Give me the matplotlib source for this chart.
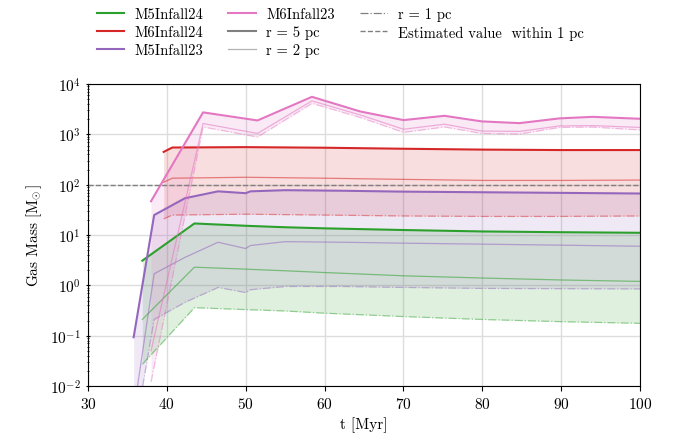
import numpy as np
import matplotlib
matplotlib.use("Agg")
import matplotlib.pyplot as plt
from matplotlib.lines import Line2D

plt.rcParams['font.family'] = ['cmr10', 'DejaVu Serif']
plt.rcParams['mathtext.fontset'] = 'cm'
plt.rcParams['axes.formatter.use_mathtext'] = True
plt.rcParams['font.size'] = 11

# M5Infall24 (green)
t_m5i24 = [36.9, 43.5, 50, 55, 60, 70, 80, 90, 100]
m5i24_r5 = [3.1, 17, 15.3, 14.3, 13.6, 12.6, 11.8, 11.4, 11.1]
m5i24_r2 = [0.21, 2.3, 2.1, 1.95, 1.8, 1.55, 1.4, 1.28, 1.2]
m5i24_r1 = [0.027, 0.36, 0.33, 0.31, 0.28, 0.24, 0.21, 0.19, 0.176]

# M6Infall24 (red)
t_m6i24 = [39.6, 40.7, 50, 60, 70, 80, 90, 100]
m6i24_r5 = [450, 550, 560, 545, 520, 500, 490, 490]
m6i24_r2 = [112, 135, 141, 135, 128, 122, 122, 124]
m6i24_r1 = [21, 25, 26, 25, 24, 23.5, 23.5, 24]

# M5Infall23 (purple)
t_m5i23 = [35.8, 38.4, 42.3, 46.5, 50, 50.6, 55, 62.4, 70, 80, 90, 100]
m5i23_r5 = [0.093, 25, 54, 74, 68, 74, 78, 76, 73, 71, 69, 67]
m5i23_r2 = [0.003, 1.7, 3.6, 7.2, 5.4, 6.2, 7.4, 7.2, 6.9, 6.6, 6.3, 6.0]
m5i23_r1 = [0.0009, 0.21, 0.46, 0.91, 0.72, 0.82, 0.95, 0.95, 0.91, 0.87, 0.86, 0.85]

# M6Infall23 (pink)
t_m6i23 = [38.0, 44.6, 51.5, 58.4, 64.5, 70.0, 75.2, 79.9, 84.7, 89.8, 94.0, 100]
m6i23_r5 = [47, 2750, 1900, 5600, 2870, 1930, 2350, 1820, 1680, 2090, 2240, 2050]
m6i23_r2 = [0.05, 1650, 1050, 4650, 2450, 1270, 1600, 1170, 1150, 1480, 1500, 1380]
m6i23_r1 = [0.012, 1410, 890, 4150, 2180, 1100, 1410, 1050, 1020, 1380, 1400, 1230]

est_1pc = 100

runs = [
    ("M5Infall24", "#2ca02c", t_m5i24, m5i24_r5, m5i24_r2, m5i24_r1),
    ("M6Infall24", "#d62728", t_m6i24, m6i24_r5, m6i24_r2, m6i24_r1),
    ("M5Infall23", "#9467bd", t_m5i23, m5i23_r5, m5i23_r2, m5i23_r1),
    ("M6Infall23", "#e377c2", t_m6i23, m6i23_r5, m6i23_r2, m6i23_r1),
]

fig = plt.figure(figsize=(6.76, 4.39), dpi=100)
ax = fig.add_axes([0.130, 0.1185, 0.817, 0.6875])

for name, c, t, r5, r2, r1 in runs:
    ax.fill_between(t, r1, r5, color=c, alpha=0.15, lw=0)
    ax.plot(t, r5, color=c, lw=1.5)
    ax.plot(t, r2, color=c, lw=0.9, alpha=0.55)
    ax.plot(t, r1, color=c, lw=0.9, alpha=0.45, ls='-.')

ax.axhline(est_1pc, color='gray', ls='--', lw=1)

ax.set_yscale('log')
ax.set_xlim(30, 100)
ax.set_ylim(1e-2, 1e4)
ax.set_xlabel('t [Myr]', labelpad=4)
ax.set_ylabel(r'Gas Mass [$\mathrm{M}_{\!\!\odot}$]')
ax.grid(True, color='#dddddd', lw=1)
ax.set_axisbelow(True)
ax.tick_params(axis='y', which='both', direction='inout')

handles = [
    Line2D([], [], color=runs[0][1], lw=1.5),
    Line2D([], [], color=runs[1][1], lw=1.5),
    Line2D([], [], color=runs[2][1], lw=1.5),
    Line2D([], [], color=runs[3][1], lw=1.5),
    Line2D([], [], color='gray', lw=1.5),
    Line2D([], [], color='gray', lw=0.9, alpha=0.6),
    Line2D([], [], color='gray', lw=0.9, ls='-.'),
    Line2D([], [], color='gray', lw=1, ls='--'),
]
labels = [runs[0][0], runs[1][0], runs[2][0], runs[3][0],
          'r = 5 pc', 'r = 2 pc', 'r = 1 pc', 'Estimated value  within 1 pc']
fig.legend(handles, labels, ncol=3, loc='upper left',
           bbox_to_anchor=(0.143, 1 - 8 / 439), borderpad=0, borderaxespad=0,
           frameon=False, fontsize=10.5, handlelength=1.9, handletextpad=0.7,
           columnspacing=1.7, labelspacing=0.3)

fig.savefig('out.png', dpi=100)
